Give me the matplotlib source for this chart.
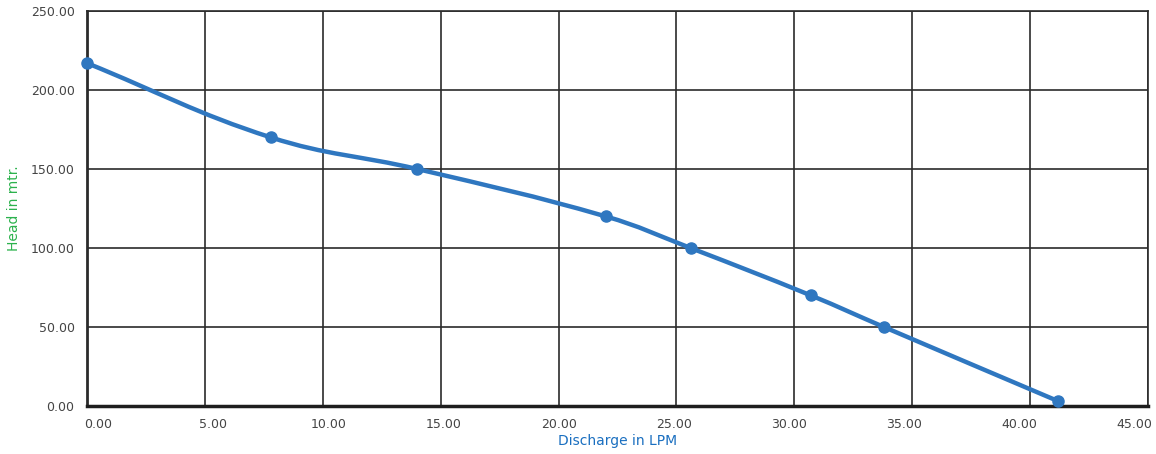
import numpy as np
import matplotlib
matplotlib.use("Agg")
from matplotlib import pyplot as plt
from matplotlib.path import Path
from matplotlib.patches import PathPatch
from matplotlib.transforms import ScaledTranslation

# pump curve readings
discharge = [0.0, 7.8, 14.0, 22.0, 25.6, 30.7, 33.8, 41.2]
head = [217, 170, 150, 120, 100, 70, 50, 3]

x_ticks = [0, 5, 10, 15, 20, 25, 30, 35, 40, 45]
y_ticks = [0, 50, 100, 150, 200, 250]

line_col = "#2f77c0"
grid_col = "#2b2b2b"

fig = plt.figure(figsize=(11.56, 4.54), dpi=100)
ax = fig.add_axes([87 / 1156, 1 - 406 / 454, (1148 - 87) / 1156, (406 - 11) / 454])
ax.set_xlim(0, 45)
ax.set_ylim(0, 250)

# smooth line, control points like a tension=0.4 spline (distances in pixel units)
sx, sy = 1061 / 45, 395 / 250
pts = np.column_stack([discharge, head]).astype(float)
t = 0.4
cps = []
for i in range(len(pts)):
    prev = pts[max(i - 1, 0)]
    cur = pts[i]
    nxt = pts[min(i + 1, len(pts) - 1)]
    d01 = np.hypot((cur[0] - prev[0]) * sx, (cur[1] - prev[1]) * sy)
    d12 = np.hypot((nxt[0] - cur[0]) * sx, (nxt[1] - cur[1]) * sy)
    tot = d01 + d12
    s01 = d01 / tot if tot else 0
    s12 = d12 / tot if tot else 0
    cps.append((cur - t * s01 * (nxt - prev), cur + t * s12 * (nxt - prev)))
verts = [tuple(pts[0])]
codes = [Path.MOVETO]
for i in range(1, len(pts)):
    verts += [tuple(cps[i - 1][1]), tuple(cps[i][0]), tuple(pts[i])]
    codes += [Path.CURVE4] * 3
ax.add_patch(PathPatch(Path(verts, codes), fill=False, edgecolor=line_col,
                       lw=3.2, capstyle="round", joinstyle="round", zorder=3, clip_on=False))
ax.plot(discharge, head, "o", color=line_col, ms=8, zorder=4, clip_on=False)

ax.set_xticks(x_ticks)
ax.set_yticks(y_ticks)
ax.set_xticklabels(["%.2f" % v for v in x_ticks])
ax.set_yticklabels(["%.2f" % v for v in y_ticks])
ax.grid(True, color=grid_col, lw=1.2)
ax.set_axisbelow(True)
ax.tick_params(length=0, labelsize=9, labelcolor="#444444", pad=9)
ax.tick_params(axis="y", pad=9)

# labels in the original are spread a bit narrower than the grid
for i, lab in enumerate(ax.get_xticklabels()):
    dx = (11 - 2.7 * i) / 100
    lab.set_transform(lab.get_transform() + ScaledTranslation(dx, 0, fig.dpi_scale_trans))

for s in ["top", "right"]:
    ax.spines[s].set_color(grid_col)
    ax.spines[s].set_linewidth(1.2)
ax.spines["left"].set_color(grid_col)
ax.spines["left"].set_linewidth(2)
ax.spines["bottom"].set_color("#1e1e1e")
ax.spines["bottom"].set_linewidth(2.5)

ax.set_xlabel("Discharge in LPM", color="#1a6fc0", fontsize=10, labelpad=2)
ax.set_ylabel("Head in mtr.", color="#2bb24c", fontsize=10)
ax.yaxis.set_label_coords(-66 / 1061, 0.5)

fig.savefig("out.png", dpi=100)
